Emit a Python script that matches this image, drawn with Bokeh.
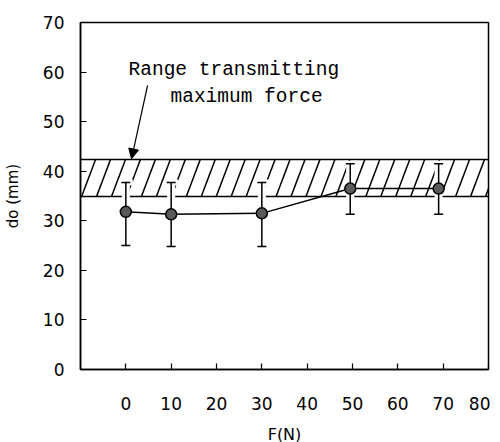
import numpy as np
from bokeh.plotting import figure
from bokeh.models import Range1d, FixedTicker, Arrow, NormalHead
from bokeh.core.properties import value
from bokeh.embed import file_html
from bokeh.resources import INLINE

# ---- data ----
force = [0, 10, 30, 49.5, 69]
do_mean = [31.8, 31.3, 31.5, 36.5, 36.5]
do_upper = [37.7, 37.7, 37.7, 41.5, 41.5]
do_lower = [25.0, 24.8, 24.8, 31.3, 31.3]
band_low = 34.8
band_high = 42.3
x_ticks = [0, 10, 20, 30, 40, 50, 60, 70, 80]
y_ticks = [0, 10, 20, 30, 40, 50, 60, 70]
note_line1 = "Range transmitting"
note_line2 = "maximum force"

p = figure(
    frame_width=408, frame_height=347,
    min_border_left=74, min_border_right=2, min_border_top=22, min_border_bottom=57,
    x_range=Range1d(-10, 80), y_range=Range1d(0, 70),
    output_backend="svg", toolbar_location=None,
    background_fill_color="white", border_fill_color="white",
)
p.grid.visible = False
p.outline_line_color = "black"
p.outline_line_width = 1.5
p.outline_line_alpha = 1.0

for ax in (p.xaxis[0], p.yaxis[0]):
    ax.axis_line_color = "black"
    ax.axis_line_width = 1.5
    ax.major_tick_in = 6
    ax.major_tick_out = 0
    ax.major_tick_line_width = 1.2
    ax.minor_tick_line_color = None
    ax.major_label_text_font = "DejaVu Sans"
    ax.major_label_text_font_size = "17px"
    ax.major_label_text_color = "black"
    ax.axis_label_text_font = "DejaVu Sans"
    ax.axis_label_text_font_style = "normal"
    ax.axis_label_text_color = "black"

p.xaxis.ticker = FixedTicker(ticks=x_ticks)
p.yaxis.ticker = FixedTicker(ticks=y_ticks)
p.xaxis.major_label_standoff = 27
p.yaxis.major_label_standoff = 16
p.xaxis.axis_label = "F(N)"
p.yaxis.axis_label = "do (mm)"
p.xaxis.axis_label_text_font_size = "16px"
p.yaxis.axis_label_text_font_size = "15px"
p.xaxis.axis_label_standoff = 12
p.yaxis.axis_label_standoff = 18

# ---- hatched band ----
slant = 3.1
spacing = 3.3
hx = np.arange(-10 - slant - spacing, 80 + spacing, spacing)
p.segment(x0=hx, y0=[band_low] * len(hx), x1=hx + slant, y1=[band_high] * len(hx),
          line_color="black", line_width=1.5)
p.hspan(y=[band_low, band_high], line_color="black", line_width=1.5)

# ---- error bars with white halo (hatch interrupted) ----
gap = 1.0
up0 = [m + gap for m in do_mean]
lo0 = [m - gap for m in do_mean]
p.segment(x0=force, y0=up0, x1=force, y1=do_upper, line_color="white", line_width=8)
p.scatter(force, do_upper, marker="dash", size=14, line_color="white", line_width=6)
p.segment(x0=force, y0=lo0, x1=force, y1=do_lower, line_color="white", line_width=8)
p.segment(x0=force, y0=up0, x1=force, y1=do_upper, line_color="black", line_width=1.5)
p.segment(x0=force, y0=lo0, x1=force, y1=do_lower, line_color="black", line_width=1.5)
p.scatter(force, do_upper, marker="dash", size=9, line_color="black", line_width=1.5)
p.scatter(force, do_lower, marker="dash", size=9, line_color="black", line_width=1.5)

# ---- mean line and markers ----
p.line(force, do_mean, line_color="black", line_width=1.5)
p.scatter(force, do_mean, marker="circle", size=11, fill_color="#5a5a5a",
          line_color="black", line_width=1.5)

# ---- annotation ----
p.text(x=[0.6], y=[60.5], text=[note_line1], text_font=value("Liberation Mono"),
       text_font_size="19.5px", text_baseline="middle", text_align="left", text_color="black")
p.text(x=[9.85], y=[54.9], text=[note_line2], text_font=value("Liberation Mono"),
       text_font_size="19.5px", text_baseline="middle", text_align="left", text_color="black")
p.add_layout(Arrow(end=NormalHead(size=10, fill_color="black", line_color="black"),
                   x_start=4.8, y_start=57.3, x_end=1.25, y_end=band_high + 0.2,
                   line_color="black", line_width=1.2))

open("out.html", "w").write(file_html(p, INLINE))
